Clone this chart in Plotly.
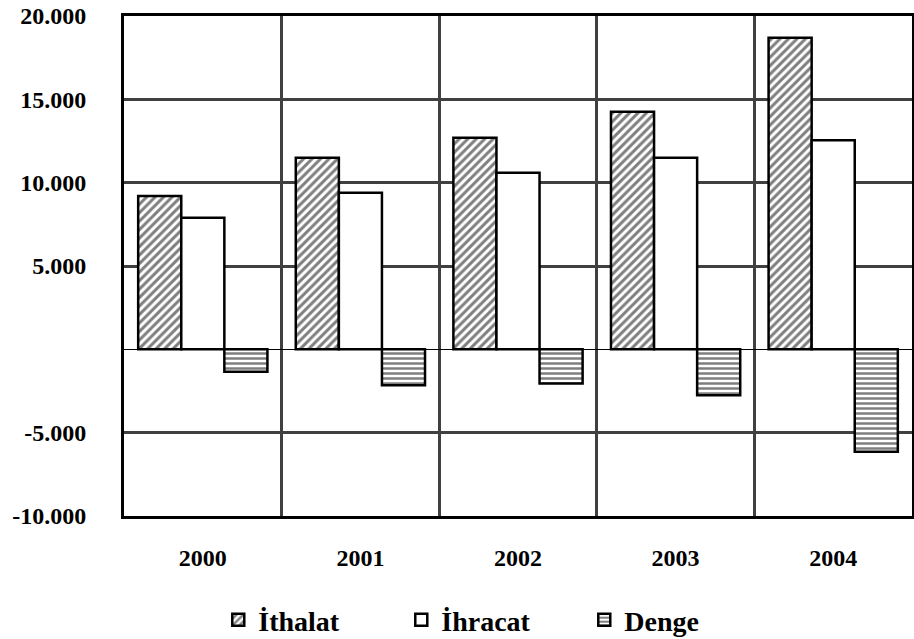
import plotly.graph_objects as go

years = ["2000", "2001", "2002", "2003", "2004"]
ithalat = [9200, 11500, 12700, 14250, 18700]
ihracat = [7900, 9400, 10600, 11500, 12550]
denge = [-1350, -2150, -2050, -2750, -6150]

ytick_vals = [-10000, -5000, 0, 5000, 10000, 15000, 20000]
ytick_text = ["-10.000", "-5.000", "", "5.000", "10.000", "15.000", "20.000"]

font_fam = "Liberation Serif"

fig = go.Figure()
fig.add_trace(go.Bar(
    x=years, y=ithalat, name="İthalat",
    marker=dict(color="white", line=dict(color="black", width=2.5),
                pattern=dict(shape="/", fgcolor="black", bgcolor="white", size=6, solidity=0.5)),
))
fig.add_trace(go.Bar(
    x=years, y=ihracat, name="İhracat",
    marker=dict(color="white", line=dict(color="black", width=2.5)),
))
fig.add_trace(go.Bar(
    x=years, y=denge, name="Denge",
    marker=dict(color="white", line=dict(color="black", width=2.5),
                pattern=dict(shape="-", fgcolor="black", bgcolor="white", size=5, solidity=0.5)),
))

fig.update_layout(
    width=914, height=639,
    margin=dict(l=124, r=2, t=16, b=123, autoexpand=False),
    paper_bgcolor="white", plot_bgcolor="white",
    barmode="group", bargap=0.18, bargroupgap=0,
    font=dict(family=font_fam, size=24, color="black"),
    showlegend=True,
    legend=dict(orientation="h", x=0.468, xanchor="center", y=-0.208, yanchor="middle",
                font=dict(family=font_fam, size=28, color="black", weight="bold"),
                entrywidth=138, itemwidth=30, traceorder="normal"),
    xaxis=dict(
        type="category", tickson="boundaries", showgrid=True, gridcolor="#404040", gridwidth=2.5,
        showline=True, linecolor="black", linewidth=3, mirror=True,
        ticks="", tickfont=dict(family=font_fam, size=24, color="black", weight="bold"),
        ticklabelstandoff=18,
    ),
    yaxis=dict(
        range=[-10000, 20000], tickvals=ytick_vals, ticktext=ytick_text,
        showgrid=True, gridcolor="#404040", gridwidth=2.5,
        zeroline=True, zerolinecolor="black", zerolinewidth=1,
        showline=True, linecolor="black", linewidth=3, mirror=True,
        ticks="", tickfont=dict(family=font_fam, size=24, color="black", weight="bold"),
        ticklabelstandoff=30, ticklabeloverflow="allow",
    ),
)

fig.write_html("out.html", config={"displayModeBar": False},
               post_script="document.body.style.margin='0';")
